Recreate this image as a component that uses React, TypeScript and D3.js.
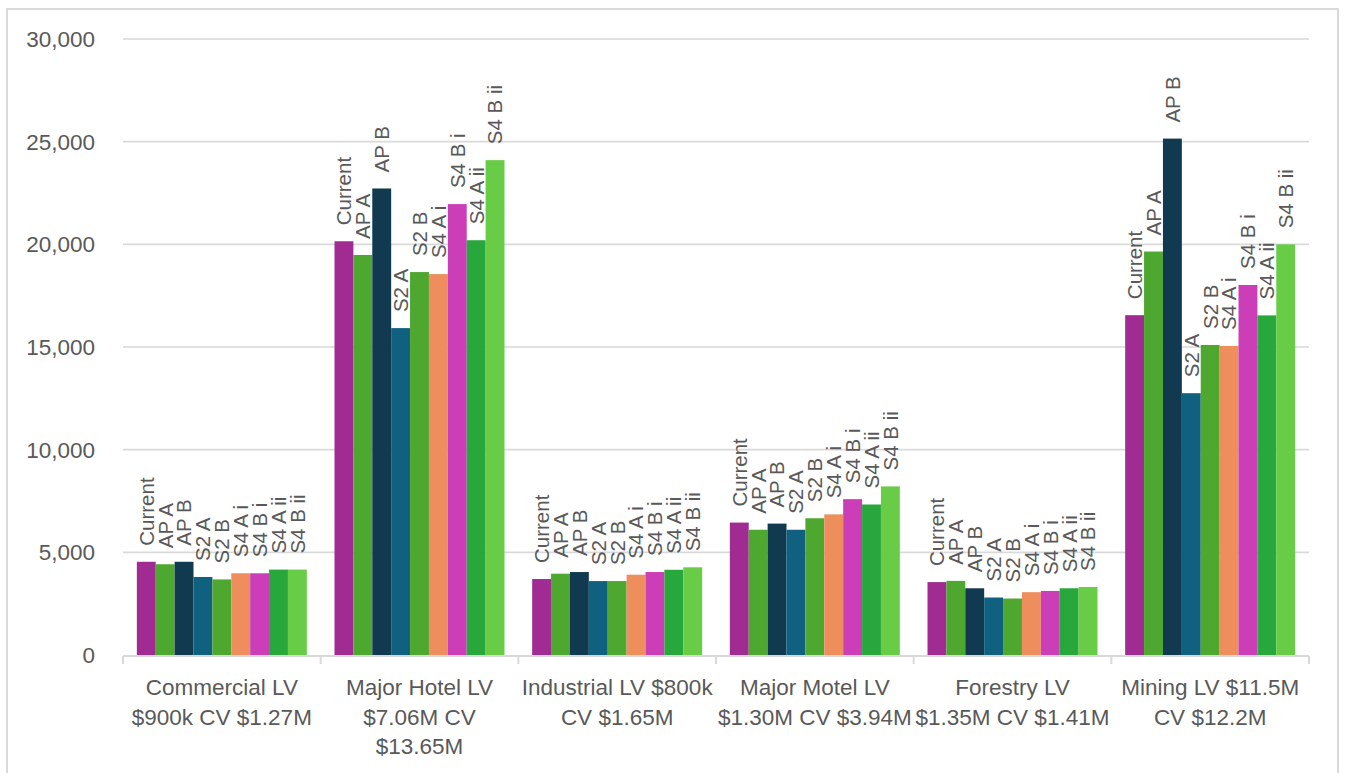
import React from "react";
import * as d3 from "d3";

const categories: string[][] = [
  ["Commercial LV", "$900k CV $1.27M"],
  ["Major Hotel LV", "$7.06M CV", "$13.65M"],
  ["Industrial LV $800k", "CV $1.65M"],
  ["Major Motel LV", "$1.30M CV $3.94M"],
  ["Forestry LV", "$1.35M CV $1.41M"],
  ["Mining LV $11.5M", "CV $12.2M"],
];

const seriesNames = ["Current", "AP A", "AP B", "S2 A", "S2 B", "S4 A i", "S4 B i", "S4 A ii", "S4 B ii"];
const seriesColors = ["#A02B93", "#4EA72E", "#113A50", "#10607F", "#4EA72E", "#EE8E5C", "#CC3DB8", "#28A73C", "#68CC46"];

const current = [4540, 20150, 3700, 6450, 3550, 16550];
const apA = [4420, 19480, 3960, 6100, 3610, 19650];
const apB = [4540, 22720, 4040, 6400, 3250, 25150];
const s2A = [3800, 15920, 3600, 6100, 2800, 12750];
const s2B = [3680, 18650, 3600, 6660, 2750, 15100];
const s4Ai = [3980, 18550, 3910, 6850, 3060, 15050];
const s4Bi = [3980, 21960, 4040, 7590, 3120, 18020];
const s4Aii = [4160, 20200, 4150, 7330, 3250, 16540];
const s4Bii = [4160, 24100, 4270, 8210, 3310, 20000];

const seriesValues = [current, apA, apB, s2A, s2B, s4Ai, s4Bi, s4Aii, s4Bii];
const yTicks = [0, 5000, 10000, 15000, 20000, 25000, 30000];

const W = 1345;
const H = 773;
const left = 123;
const right = 1309;
const top = 39;
const bottom = 655;
const textColor = "#595959";
const gridColor = "#d9d9d9";
const font = "'Liberation Sans', Arial, sans-serif";

export default function App() {
  const y = d3.scaleLinear().domain([0, 30000]).range([bottom, top]);
  const x0 = d3
    .scaleBand<number>()
    .domain(d3.range(categories.length))
    .range([left, right])
    .paddingInner(0.14)
    .paddingOuter(0.07);
  const x1 = d3
    .scaleBand<number>()
    .domain(d3.range(seriesNames.length))
    .range([0, x0.bandwidth()])
    .padding(0);
  const step = (right - left) / categories.length;
  const fmt = d3.format(",");

  return (
    <svg
      width={W}
      height={H}
      style={{ position: "absolute", left: 0, top: 0, background: "#fff" }}
      fontFamily={font}
    >
      <rect x={7} y={9} width={1331} height={800} fill="#fff" stroke={gridColor} strokeWidth={2} />
      {yTicks.map((t) => (
        <g key={t}>
          {t > 0 && (
            <line x1={left} x2={right} y1={y(t)} y2={y(t)} stroke={gridColor} strokeWidth={1.6} />
          )}
          <text x={95} y={y(t)} dy="0.36em" textAnchor="end" fontSize={22.5} fill={textColor}>
            {fmt(t)}
          </text>
        </g>
      ))}
      {categories.map((_, gi) =>
        seriesNames.map((s, si) => {
          const v = seriesValues[si][gi];
          const bx = (x0(gi) as number) + (x1(si) as number);
          const bw = x1.bandwidth();
          return (
            <g key={`${gi}-${si}`}>
              <rect x={bx} y={y(v)} width={bw} height={bottom - y(v)} fill={seriesColors[si]} />
            </g>
          );
        })
      )}
      <line x1={left} x2={right} y1={bottom + 1} y2={bottom + 1} stroke={gridColor} strokeWidth={2} />
      {d3.range(categories.length + 1).map((i) => (
        <line
          key={i}
          x1={left + i * step}
          x2={left + i * step}
          y1={bottom + 1}
          y2={bottom + 9}
          stroke={gridColor}
          strokeWidth={2}
        />
      ))}
      {categories.map((_, gi) =>
        seriesNames.map((s, si) => {
          const v = seriesValues[si][gi];
          const cx = (x0(gi) as number) + (x1(si) as number) + x1.bandwidth() / 2;
          const ty = y(v) - 16;
          return (
            <text
              key={`l${gi}-${si}`}
              transform={`translate(${cx},${ty}) rotate(-90)`}
              dy="0.36em"
              fontSize={20.5}
              fill={textColor}
            >
              {s}
            </text>
          );
        })
      )}
      {categories.map((lines, gi) => {
        const cx = (x0(gi) as number) + x0.bandwidth() / 2;
        return (
          <text key={`c${gi}`} textAnchor="middle" fontSize={22.5} fill={textColor}>
            {lines.map((ln, li) => (
              <tspan key={li} x={cx} y={695 + li * 29.5}>
                {ln}
              </tspan>
            ))}
          </text>
        );
      })}
    </svg>
  );
}
